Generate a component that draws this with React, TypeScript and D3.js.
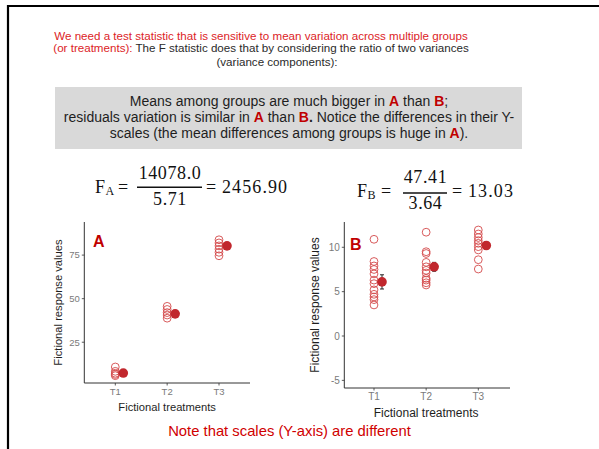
import React from 'react';
import * as d3 from 'd3';

// treatments and the fictional responses
const treatments = ['T1', 'T2', 'T3'];

const valuesA = [
  [10.8, 8.3, 6.5, 5.8, 7.2],
  [45.6, 43.8, 42.0, 40.6, 38.8],
  [83.8, 82.0, 80.3, 78.4, 76.6, 74.6],
];
const meansA = [7.3, 41.3, 80.3];
const seA = [0.9, 1.2, 1.4];
const ticksA = [25, 50, 75];

const valuesB = [
  [10.9, 8.4, 7.9, 7.5, 7.0, 6.3, 5.9, 5.2, 4.7, 4.4, 4.1, 3.5],
  [11.7, 9.5, 9.3, 8.3, 7.8, 7.4, 7.1, 6.5, 6.3, 6.0, 5.75],
  [11.95, 11.5, 11.1, 10.75, 10.45, 10.07, 9.7, 8.6, 7.55],
];
const meansB = [6.1, 7.8, 10.2];
const seB = [0.8, 0.5, 0.4];
const ticksB = [-5, 0, 5, 10];

const sans = '"Liberation Sans", Arial, sans-serif';
const serif = '"Liberation Serif", "Times New Roman", serif';
const red = '#c00000';
const ink = '#1e1e1e';

type PanelProps = {
  label: string;
  values: number[][];
  means: number[];
  se: number[];
  ticks: number[];
  yDomain: [number, number];
  axisX: [number, number];
  axisY: [number, number];
  catRange: [number, number];
  tickSize: number;
  titleSize: number;
  yTitleX: number;
  xTitleY: number;
  labelPos: [number, number];
};

function Panel(p: PanelProps) {
  const x = d3.scalePoint<string>().domain(treatments).range(p.catRange);
  const y = d3.scaleLinear().domain(p.yDomain).range([p.axisY[1], p.axisY[0]]);
  const [x0, x1] = p.axisX;
  const [yTop, yBot] = p.axisY;
  const dodge = 8;
  const yMid = (yTop + yBot) / 2;

  return (
    <g>
      {/* raw observations */}
      {p.values.map((vals, i) =>
        vals.map((v, j) => (
          <circle key={`o${i}-${j}`} cx={x(treatments[i])} cy={y(v)} r={3.9}
            fill="none" stroke="#d4494b" strokeWidth={0.9} />
        ))
      )}
      {/* means with error bars */}
      {p.means.map((m, i) => {
        const cx = (x(treatments[i]) as number) + dodge;
        return (
          <g key={`m${i}`}>
            <line x1={cx} x2={cx} y1={y(m - p.se[i])} y2={y(m + p.se[i])} stroke="#111" strokeWidth={0.9} />
            <line x1={cx - 2} x2={cx + 2} y1={y(m - p.se[i])} y2={y(m - p.se[i])} stroke="#111" strokeWidth={0.9} />
            <line x1={cx - 2} x2={cx + 2} y1={y(m + p.se[i])} y2={y(m + p.se[i])} stroke="#111" strokeWidth={0.9} />
            <circle cx={cx} cy={y(m)} r={4.8} fill="#c1272d" />
          </g>
        );
      })}
      {/* axes */}
      <line x1={x0} x2={x0} y1={yTop} y2={yBot} stroke="#333" strokeWidth={1} />
      <line x1={x0} x2={x1} y1={yBot} y2={yBot} stroke="#333" strokeWidth={1} />
      {p.ticks.map(t => (
        <g key={`yt${t}`}>
          <line x1={x0 - 2.5} x2={x0} y1={y(t)} y2={y(t)} stroke="#333" strokeWidth={0.8} />
          <text x={x0 - 4.5} y={y(t)} dy="0.35em" textAnchor="end" fontSize={p.tickSize}
            fontFamily={sans} fill="#7a7a7a">{t}</text>
        </g>
      ))}
      {treatments.map(t => (
        <g key={`xt${t}`}>
          <line x1={x(t)} x2={x(t)} y1={yBot} y2={yBot + 2.5} stroke="#333" strokeWidth={0.8} />
          <text x={x(t)} y={yBot + 4} dy="0.8em" textAnchor="middle" fontSize={p.tickSize}
            fontFamily={sans} fill="#7a7a7a">{t}</text>
        </g>
      ))}
      <text x={(p.catRange[0] + p.catRange[1]) / 2} y={p.xTitleY}
        textAnchor="middle" fontSize={p.titleSize} fontFamily={sans} fill={ink}>Fictional treatments</text>
      <text transform={`translate(${p.yTitleX},${yMid}) rotate(-90)`} textAnchor="middle"
        dy="0.35em" fontSize={p.titleSize} fontFamily={sans} fill={ink}>Fictional response values</text>
      <text x={p.labelPos[0]} y={p.labelPos[1]} fontSize={16} fontWeight="bold" fontFamily={sans} fill={red}>{p.label}</text>
    </g>
  );
}

export default function App() {
  return (
    <svg width={599} height={449} style={{ position: 'absolute', left: 0, top: 0, background: '#fff' }}>
      {/* slide frame */}
      <path d="M8,449 V6 H599" fill="none" stroke="#000" strokeWidth={2.2} />

      {/* heading */}
      <g fontFamily={sans} fontSize={11.6}>
        <text x={261} y={40} textAnchor="middle" fill="#dc231f">
          We need a test statistic that is sensitive to mean variation across multiple groups
        </text>
        <text x={261} y={51.5} textAnchor="middle" fill="#2a2a2a">
          <tspan fill="#dc231f">(or treatments):</tspan> The F statistic does that by considering the ratio of two variances
        </text>
        <text x={277} y={65.5} textAnchor="middle" fill="#2a2a2a">(variance components):</text>
      </g>

      {/* grey note box */}
      <rect x={55} y={87} width={467} height={62} fill="#d9d9d9" />
      <g fontFamily={sans} fontSize={14} fill={ink} textAnchor="middle">
        <text x={289} y={106}>
          Means among groups are much bigger in <tspan fontWeight="bold" fill={red}>A</tspan> than <tspan fontWeight="bold" fill={red}>B</tspan>;
        </text>
        <text x={289} y={122}>
          residuals variation is similar in <tspan fontWeight="bold" fill={red}>A</tspan> than <tspan fontWeight="bold" fill={red}>B</tspan><tspan fontWeight="bold">.</tspan> Notice the differences in their Y-
        </text>
        <text x={289} y={138}>
          scales (the mean differences among groups is huge in <tspan fontWeight="bold" fill={red}>A</tspan>).
        </text>
      </g>

      {/* F ratios */}
      <g fontFamily={serif} fill="#111" fontSize={18}>
        <text x={95} y={193}>F</text>
        <text x={105.5} y={195} fontSize={12}>A</text>
        <text x={118} y={193}>=</text>
        <text x={170} y={179} textAnchor="middle" letterSpacing={0.6}>14078.0</text>
        <line x1={137} x2={202} y1={187.3} y2={187.3} stroke="#111" strokeWidth={1.6} />
        <text x={170} y={205} textAnchor="middle" letterSpacing={0.6}>5.71</text>
        <text x={206} y={193}>=</text>
        <text x={222} y={193} letterSpacing={1.1}>2456.90</text>

        <text x={357} y={197}>F</text>
        <text x={367.5} y={199} fontSize={12}>B</text>
        <text x={381} y={197}>=</text>
        <text x={425.5} y={183} textAnchor="middle" letterSpacing={0.6}>47.41</text>
        <line x1={403} x2={447} y1={193} y2={193} stroke="#111" strokeWidth={1.6} />
        <text x={425.5} y={209} textAnchor="middle" letterSpacing={0.6}>3.64</text>
        <text x={452} y={197}>=</text>
        <text x={468} y={197} letterSpacing={1.1}>13.03</text>
      </g>

      <Panel label="A" values={valuesA} means={meansA} se={seA} ticks={ticksA}
        yDomain={[1.6, 94]} axisX={[84.3, 250]} axisY={[222, 383]} catRange={[115.3, 219]}
        tickSize={9.5} titleSize={11.2} yTitleX={58} xTitleY={411} labelPos={[93, 247]} />
      <Panel label="B" values={valuesB} means={meansB} se={seB} ticks={ticksB}
        yDomain={[-5.86, 12.85]} axisX={[344.3, 510]} axisY={[222, 388]} catRange={[374, 478.3]}
        tickSize={10} titleSize={12} yTitleX={315} xTitleY={417} labelPos={[350, 250]} />

      <text x={289.5} y={436} textAnchor="middle" fontFamily={sans} fontSize={14.8} fill="#d00000">
        Note that scales (Y-axis) are different
      </text>
    </svg>
  );
}
